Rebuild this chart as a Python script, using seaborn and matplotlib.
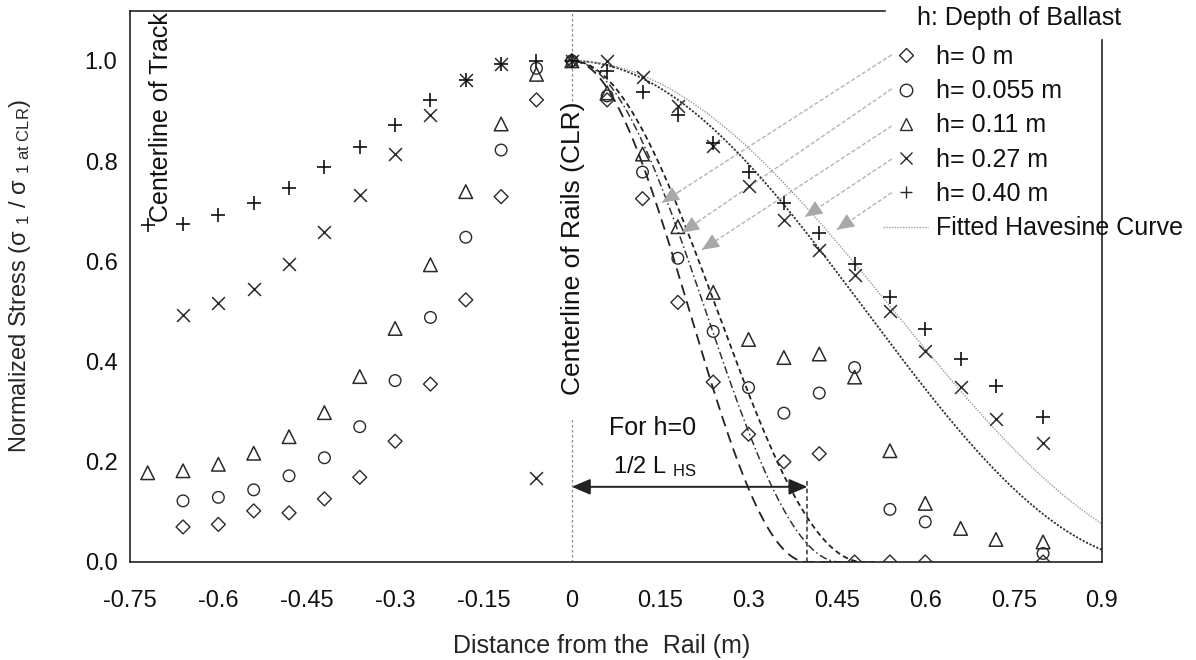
import numpy as np
import matplotlib
matplotlib.use("Agg")
import matplotlib.pyplot as plt
from matplotlib.lines import Line2D
from matplotlib.ticker import MultipleLocator, FuncFormatter, FormatStrFormatter
import seaborn as sns

nan = np.nan

# Distance of each measuring point from the rail (m)
distance = [-0.72, -0.66, -0.60, -0.54, -0.48, -0.42, -0.36, -0.30, -0.24, -0.18, -0.12, -0.06,
            0.00, 0.06, 0.12, 0.18, 0.24, 0.30, 0.36, 0.42, 0.48, 0.54, 0.60, 0.66, 0.72, 0.80]

# Normalized vertical stress for each ballast depth
stress_h0 = [nan, 0.070, 0.075, 0.102, 0.098, 0.126, 0.169, 0.241, 0.355, 0.523, 0.729, 0.922,
             1.000, 0.922, 0.725, 0.518, 0.359, 0.255, 0.200, 0.216, 0.000, 0.000, 0.000, nan, nan, 0.000]
stress_h0055 = [nan, 0.122, 0.129, 0.144, 0.172, 0.208, 0.270, 0.362, 0.488, 0.648, 0.822, 0.985,
                1.000, 0.930, 0.778, 0.606, 0.460, 0.348, 0.297, 0.337, 0.388, 0.105, 0.080, nan, nan, 0.017]
stress_h011 = [0.178, 0.182, 0.195, 0.217, 0.250, 0.298, 0.370, 0.466, 0.593, 0.739, 0.874, 0.973,
               1.000, 0.936, 0.814, 0.669, 0.538, 0.444, 0.408, 0.415, 0.369, 0.222, 0.117, 0.067, 0.045, 0.040]
stress_h027 = [nan, 0.493, 0.516, 0.545, 0.595, 0.658, 0.733, 0.814, 0.892, 0.961, 0.993, 0.168,
               1.000, 1.000, 0.967, 0.909, 0.830, 0.751, 0.683, 0.623, 0.573, 0.500, 0.422, 0.350, 0.285, 0.237]
stress_h040 = [0.673, 0.675, 0.693, 0.716, 0.747, 0.788, 0.829, 0.872, 0.921, 0.961, 0.993, 0.999,
               1.000, 0.979, 0.937, 0.892, 0.836, 0.779, 0.716, 0.656, 0.595, 0.528, 0.464, 0.405, 0.352, 0.289]

depth_labels = ["h= 0 m", "h= 0.055 m", "h= 0.11 m", "h= 0.27 m", "h= 0.40 m"]
series = [stress_h0, stress_h0055, stress_h011, stress_h027, stress_h040]

# Fitted haversine curves: half-length L_HS/2 (m) for each depth
fit_half_length = [0.40, 0.455, 0.495, 1.00, 1.095]
fit_x_end = [0.46, 0.50, 0.52, 0.90, 0.90]

xtick_values = [-0.75, -0.6, -0.45, -0.3, -0.15, 0, 0.15, 0.3, 0.45, 0.6, 0.75, 0.9]

sns.set_theme(style="white")
plt.rcParams["font.family"] = ["Liberation Sans", "DejaVu Sans"]
plt.rcParams["mathtext.fontset"] = "custom"
plt.rcParams["mathtext.rm"] = "Liberation Sans"
plt.rcParams["mathtext.it"] = "Liberation Sans:italic"
plt.rcParams["mathtext.bf"] = "Liberation Sans:bold"
plt.rcParams["text.color"] = "#111111"

W, H = 1196, 660
fig = plt.figure(figsize=(W / 100, H / 100), dpi=100)
ax = fig.add_axes([130 / W, 1 - 562 / H, 972 / W, 551.3 / H])

ink = "#2a2a2a"

# Measured points
marker_styles = [
    dict(marker="D", s=50, facecolors="none", edgecolors=ink, linewidth=1.0),
    dict(marker="o", s=70, facecolors="none", edgecolors=ink, linewidth=1.0),
    dict(marker="^", s=95, facecolors="none", edgecolors=ink, linewidth=1.1),
    dict(marker="x", s=85, color=ink, linewidth=1.1),
    dict(marker="+", s=110, color="#111111", linewidth=1.2),
]
for vals, style in zip(series, marker_styles):
    sns.scatterplot(x=distance, y=vals, ax=ax, legend=False, zorder=3, **style)

# Fitted haversine curves
curve_styles = [
    dict(color="#222222", lw=1.3, linestyle=(0, (6, 3.5))),
    dict(color="#333333", lw=1.1, linestyle=(0, (5, 2, 1, 2))),
    dict(color="#222222", lw=1.3, linestyle=(0, (3, 2))),
    dict(color="#333333", lw=1.3, linestyle=(0, (1.2, 0.9))),
    dict(color="#9a9a9a", lw=1.0, linestyle=(0, (1, 1))),
]
for L, xe, st in zip(fit_half_length, fit_x_end, curve_styles):
    xc = np.linspace(0, xe, 400)
    yc = np.where(xc < L, np.cos(np.pi * xc / (2 * L)) ** 2, 0.0)
    sns.lineplot(x=xc, y=yc, ax=ax, legend=False, zorder=2, **st)

ax.set_xlim(-0.75, 0.9)
ax.set_ylim(0, 1.10)

ax.xaxis.set_major_locator(plt.FixedLocator(xtick_values))
ax.xaxis.set_minor_locator(MultipleLocator(0.05))
ax.xaxis.set_major_formatter(FuncFormatter(lambda v, p: f"{v:g}"))
ax.yaxis.set_major_locator(MultipleLocator(0.2))
ax.yaxis.set_minor_locator(MultipleLocator(0.05))
ax.yaxis.set_major_formatter(FormatStrFormatter("%.1f"))
ax.tick_params(axis="both", which="both", direction="in", length=7, width=1, color="#222222",
               labelsize=17, labelcolor="#111111")
ax.tick_params(axis="x", which="both", pad=20)
ax.tick_params(axis="y", which="both", pad=9)
ax.set_yticks([v for v in np.arange(0, 1.0001, 0.2)])

for side in ["left", "bottom", "top", "right"]:
    ax.spines[side].set_color("#222222")
    ax.spines[side].set_linewidth(1.2)
ax.spines["top"].set_bounds(-0.75, 0.532)
ax.spines["right"].set_bounds(0, 1.042)

ax.set_xlabel("Distance from the  Rail (m)", fontsize=18)
ax.xaxis.set_label_coords(0.485, -0.13)
ax.set_ylabel(r"Normalized Stress (σ $_{1}$ / σ $_{1\ \mathrm{at\ CLR}}$)", fontsize=17)
ax.yaxis.set_label_coords(-0.1, 0.519)

# Centreline of rails
ax.plot([0, 0], [0.92, 1.10], color="#888888", lw=0.9, linestyle=(0, (2, 2)), zorder=1)
ax.plot([0, 0], [0, 0.29], color="#888888", lw=0.9, linestyle=(0, (2, 2)), zorder=1)
ax.text(0.002, 0.627, "Centerline of Rails (CLR)", rotation=90, ha="center", va="center", fontsize=19)
ax.text(-0.697, 1.097, "Centerline of Track", rotation=90, ha="center", va="top", fontsize=18)

# Half-length of the h = 0 haversine
half_L0 = fit_half_length[0]
ax.annotate("", xy=(0, 0.15), xytext=(half_L0, 0.15),
            arrowprops=dict(arrowstyle="<|-|>,head_length=0.7,head_width=0.3", color="#222222",
                            lw=1.4, shrinkA=0, shrinkB=0, mutation_scale=16))
ax.plot([half_L0, half_L0], [0, 0.165], color="#333333", lw=1.1, linestyle=(0, (3, 2)))
ax.text(0.137, 0.267, "For h=0", ha="center", va="center", fontsize=18)
ax.text(0.14, 0.19, r"1/2 L $_{\mathrm{HS}}$", ha="center", va="center", fontsize=17)

# Leader arrows from the legend entries to the fitted curves
leader_start = [(0.543, 1.012), (0.543, 0.944), (0.543, 0.870), (0.543, 0.804), (0.543, 0.737)]
leader_end = [(0.153, 0.717), (0.187, 0.657), (0.221, 0.623), (0.396, 0.689), (0.450, 0.663)]
for (x0, y0), (x1, y1) in zip(leader_start, leader_end):
    ax.plot([x0, x1], [y0, y1], color="#b4b4b4", lw=1.0, linestyle=(0, (3, 1.5)), zorder=1)
    ax.annotate("", xy=(x1, y1), xytext=(x1 + (x0 - x1) * 0.08, y1 + (y0 - y1) * 0.08),
                arrowprops=dict(arrowstyle="-|>,head_length=0.9,head_width=0.4", color="#a8a8a8",
                                lw=0.8, shrinkA=0, shrinkB=0, mutation_scale=12))

# Legend
handles = []
for style in marker_styles:
    m = style["marker"]
    filled_kw = dict(markerfacecolor="none", markeredgecolor=ink) if m in "Do^" else dict(color=ink)
    handles.append(Line2D([], [], linestyle="none", marker=m, markersize=9 if m != "D" else 7,
                          markeredgewidth=1.0, **filled_kw))
handles.append(Line2D([], [], color="#9a9a9a", lw=1.0, linestyle=(0, (1, 1))))
labels = depth_labels + ["Fitted Havesine Curve"]
leg = fig.legend(handles, labels, loc="upper left",
                 bbox_to_anchor=(878 / W, 1 - 40 / H), frameon=False, fontsize=18,
                 handlelength=1.8, handletextpad=0.3, labelspacing=0.41,
                 borderaxespad=0, borderpad=0.2)
fig.text(917 / W, 1 - 18 / H, "h: Depth of Ballast", ha="left", va="center", fontsize=18)

fig.savefig("out.png", dpi=100, facecolor="white")
